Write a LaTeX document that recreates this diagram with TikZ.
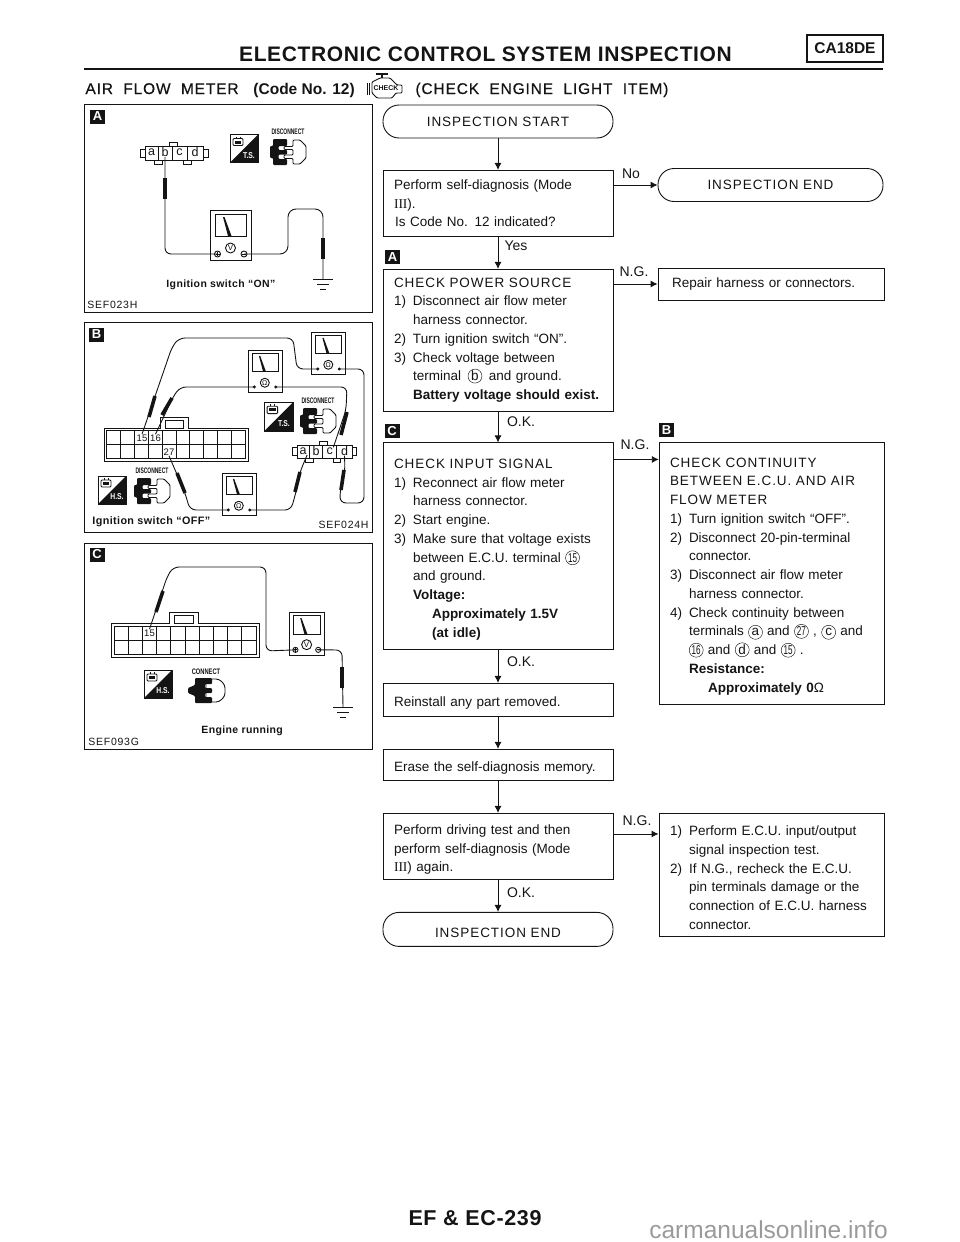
\documentclass[tikz,border=0pt]{standalone}
\usepackage{fontspec}
\usepackage{xcolor}
\usepackage{tikz}
\usetikzlibrary{arrows.meta,positioning,calc}
\setmainfont{Liberation Sans}
\newfontfamily\capfont[LetterSpace=7,WordSpace=2]{Liberation Sans}
\newfontfamily\headfont[LetterSpace=3]{Liberation Sans}
\newfontfamily\condfont[LetterSpace=3.5]{Liberation Sans}
\newfontfamily\medfont[LetterSpace=5.5,WordSpace=2,FakeBold=0.5]{Liberation Sans}
\newfontfamily\serfont{Liberation Serif}
\definecolor{ink}{HTML}{141414}
\definecolor{wmgray}{HTML}{9A9A9A}
% circled terminal mark, and the hanging number of a list line
\newcommand{\crc}[1]{\tikz[baseline=(ring.base)]\node[draw=ink, circle, fill=none, line width=.45pt,
  inner xsep=0pt, inner ysep=0pt, text width=, align=center, minimum width=14pt, minimum height=14pt] (ring) {#1};}
\newcommand{\crn}[1]{\crc{\scalebox{.6}[.95]{#1}}}
\newcommand{\num}[1]{\makebox[19pt][l]{#1}}
\newcommand{\ind}{\hspace*{19pt}}
\newcommand{\dn}{\rule{0pt}{16pt}}
\newcommand{\meterbody}{%
  \draw (0,0) rectangle (41,50);
  \draw (5,4) rectangle (36,26);
  \fill (13,7) -- (14.5,7) -- (21.5,26) -- (18,26) -- cycle;
}
\tikzset{
  pics/voltmeter/.style={code={
    \meterbody
    \coordinate (plus) at (7.5,44);
    \coordinate (minus) at (34,44);
    \draw (plus) circle (3);
    \draw (5.5,44) -- (9.5,44) (7.5,42) -- (7.5,46);
    \draw (minus) circle (3);
    \draw (32,44) -- (36,44);
    \node[draw, circle, inner sep=0pt, minimum size=10pt, font=\fontsize{8}{8}\selectfont] (dial) at (20.5,38) {V};
  }},
  pics/ohmmeter/.style={code={
    \meterbody
    \coordinate (plus) at (7.5,44);
    \coordinate (minus) at (33,44);
    \fill (plus) circle (2);
    \fill (minus) circle (2);
    \node[draw, circle, inner sep=0pt, minimum size=9pt, font=\fontsize{7}{7}\selectfont] (dial) at (20,39) {Ω};
  }},
  pics/modebadge/.style={code={
    \draw (0,0) rectangle (28,28);
    \fill (28,0) -- (28,28) -- (0,28) -- cycle;
    \draw[rounded corners=1pt] (3,4) rectangle (13,11);
    \fill (5,6) rectangle (11,9);
    \draw (6,4) -- (6,2) (10,4) -- (10,2);
    \node[text=white, inner sep=0pt, font=\bfseries\fontsize{8.5}{8.5}\selectfont] (mode) at (19,21) {\scalebox{.8}[1]{#1}};
  }},
  pics/plugopen/.style={code={
    \fill[rounded corners=1pt] (3,0) -- (17,0) -- (17,7) -- (8.5,7) -- (8.5,11) -- (17,11) -- (17,15.5)
      -- (8.5,15.5) -- (8.5,20) -- (17,20) -- (17,26) -- (3,26) -- (3,19) -- (0,19) -- (0,7) -- (3,7) -- cycle;
    \draw[fill=white, rounded corners=1pt] (14,7.500) -- (23,7.500) -- (23,1) -- (30,1) -- (36,7) -- (36,19) -- (30,25)
      -- (23,25) -- (23,19.500) -- (14,19.500) -- (14,16) -- (23,16) -- (23,10.500) -- (14,10.500) -- cycle;
    \node[inner sep=0pt, font=\bfseries\fontsize{8}{8}\selectfont] (cap) at (18,-7) {\scalebox{.62}[1]{DISCONNECT}};
  }},
  pics/plugshut/.style={code={
    \draw[rounded corners=3pt] (18,1) -- (31,1) -- (37,7) -- (37,18) -- (31,24) -- (18,24) -- cycle;
    \fill[rounded corners=1pt] (7,0) -- (24,0) -- (24,6) -- (17,6) -- (17,10) -- (24,10) -- (24,15)
      -- (17,15) -- (17,19) -- (24,19) -- (24,25) -- (7,25) -- (7,18) -- (0,15) -- (0,10) -- (7,7) -- cycle;
    \node[inner sep=0pt, font=\bfseries\fontsize{8}{8}\selectfont] (cap) at (18,-6) {\scalebox{.72}[1]{CONNECT}};
  }},
  pics/abcdconn/.style={code={
    \draw (0,0) rectangle (58,14);
    \draw (13,0) -- (13,14) (27,0) -- (27,14) (42,0) -- (42,14);
    \draw (-5,3) rectangle (0,11) (58,3) rectangle (63,11);
    \draw (24,-4) rectangle (32,0);
    \draw (9,14) rectangle (17,18) (38,14) rectangle (46,18);
    \node[inner sep=0pt, font=\fontsize{12.5}{12.5}\selectfont] (a) at (6.5,6.5) {a};
    \node[inner sep=0pt, font=\fontsize{12.5}{12.5}\selectfont] (b) at (20,6) {b};
    \node[inner sep=0pt, font=\fontsize{12.5}{12.5}\selectfont] (c) at (34.5,6.5) {c};
    \node[inner sep=0pt, font=\fontsize{12.5}{12.5}\selectfont] (d) at (50,6) {d};
  }},
  pics/ecuconn/.style={code={
    \draw (0,0) -- (58,0) -- (58,-11) -- (87,-11) -- (87,0) -- (148,0) -- (148,34) -- (0,34) -- cycle;
    \draw (63,-8) rectangle (82,0);
    \draw (3,3) rectangle (145,31);
    \draw (3,17) -- (145,17);
    \foreach \i in {1,...,9} \draw ({3+14.2*\i},3) -- ({3+14.2*\i},31);
  }},
  pics/earth/.style={code={
    \coordinate (top) at (0,0);
    \draw (-10,0) -- (10,0) (-6,5) -- (6,5) (-3,10) -- (3,10);
  }}
}

\begin{document}
\begin{tikzpicture}[
  x=1pt, y=-1pt, ink, line width=0.9pt,
  flowbox/.style={draw=ink, align=left, inner xsep=11pt, inner ysep=0pt, text=ink, fill=white,
                  text width=208pt, minimum width=230pt,
                  font=\fontsize{13.5}{18.75}\selectfont},
  pill/.style={flowbox, rounded corners=16pt, align=center, minimum height=33pt},
  arr/.style={-{Latex[length=7pt,width=7pt]}, ink},
  lab/.style={inner sep=0pt, text=ink, font=\fontsize{14}{14}\selectfont},
  badge/.style={fill=ink, text=white, inner sep=0pt, minimum width=15pt, minimum height=14pt,
                font=\bfseries\fontsize{13}{13}\selectfont},
  panel/.style={draw=ink, minimum width=288pt, anchor=north west},
  ident/.style={inner sep=0pt, text=ink, font=\capfont\fontsize{10.5}{10.5}\selectfont},
  cond/.style={inner sep=0pt, text=ink, font=\condfont\bfseries\fontsize{10.5}{10.5}\selectfont},
  thead/.style={inner sep=0pt, text=ink, font=\fontsize{9.5}{9.5}\selectfont},
  wire/.style={rounded corners=6pt},
  probe/.style={line width=3.6pt}
]
\useasboundingbox (0,0) rectangle (960,1242);

% heading
\node[inner sep=0pt, font=\headfont\bfseries\fontsize{21}{21}\selectfont] (title) at (485.500,54)
  {ELECTRONIC CONTROL SYSTEM INSPECTION};
\node[draw=ink, line width=1.1pt, minimum width=76pt, minimum height=27pt, inner sep=0pt,
  font=\bfseries\fontsize{15.5}{15.5}\selectfont] (engine) at (845,48.5) {CA18DE};
\draw[line width=1.2pt] (84,69) -- (883,69);
\node[inner sep=0pt, anchor=base west, font=\medfont\fontsize{15.5}{15.5}\selectfont] (sect) at (85,94)
  {AIR FLOW METER};
\node[inner sep=0pt, anchor=base west, font=\bfseries\fontsize{15.5}{15.5}\selectfont] (code) at (253,94)
  {(Code No. 12)};
\node[inner sep=0pt, anchor=base west, font=\medfont\fontsize{15.5}{15.5}\selectfont] (item) at (415,94)
  {(CHECK ENGINE LIGHT ITEM)};
% check engine lamp
\draw (367,83) -- (367,95) (369,83) -- (369,95);
\draw[rounded corners=1pt] (372,82) -- (380,78) -- (390,78) -- (397,85) -- (402,85) -- (402,93)
  -- (396,93) -- (392,98) -- (377,98) -- (372,93) -- cycle;
\draw[line width=1.4pt] (376,74) -- (388,74) (382,74) -- (382,78);
\node[fill=white, inner sep=0pt, font=\bfseries\fontsize{7}{7}\selectfont] (lamp) at (386,88) {CHECK};

% panel A
\node[panel, minimum height=208pt] (pna) at (84,104) {};
\node[badge] (pnaa) at (97.5,116.5) {A};
\pic (abca-) at (145,146) {abcdconn};
\pic (tsa-) at (230,134.500) {modebadge=T.S.};
\pic (dsa-) at (270,139) {plugopen};
\pic[scale=1] (vma-) at (210,210) {voltmeter};
\pic (gda-) at (323,279) {earth};
\draw[wire] (abca-b.south) -- (165,254) -- (vma-plus);
\draw[probe] (165,178) -- (165,199);
\draw[wire, rounded corners=8pt] (vma-minus) -- (288,254) -- (288,209) -- (323,209) -- (gda-top);
\draw[probe] (323,238) -- (323,259);
\node[cond, anchor=west] (cda) at (166,285) {Ignition switch “ON”};
\node[ident, anchor=west] (ida) at (87,305) {SEF023H};

% panel B
\node[panel, minimum height=210pt] (pnb) at (84,322) {};
\node[badge] (pnbb) at (96.5,334.500) {B};
\pic[scale=.973] (ecub-) at (104,428) {ecuconn};
\node[thead] (tb15) at (142,438) {15};
\node[thead] (tb16) at (155.500,438) {16};
\node[thead] (tb27) at (169,452) {27};
\pic[scale=.95] (abcb-) at (297,445) {abcdconn};
\pic[scale=1.05] (tsb-) at (264,402) {modebadge=T.S.};
\pic (dsb-) at (300,408) {plugopen};
\pic (hsb-) at (98,476) {modebadge=H.S.};
\pic (dsc-) at (134,478) {plugopen};
\pic[scale=.84] (oma-) at (311.500,332) {ohmmeter};
\pic[scale=.84] (omb-) at (248,350) {ohmmeter};
\pic[scale=.84] (omc-) at (222,473) {ohmmeter};
\draw[wire] (tb15.north) -- (172,347) -- (179,338) -- (293,338) -- (297,369) -- (oma-plus);
\draw[wire] (oma-minus) -- (364,369) -- (364,503) -- (340,503) -- (340,492) -- (345,470) -- (abcb-d.south);
\draw[wire] (tb16.north) -- (173,397) -- (180,387) -- (omb-plus);
\draw[wire] (omb-minus) -- (347,387) -- (346,410) -- (abcb-c.north east);
\draw[wire] (tb27.south) -- (185,493) -- (190,510) -- (omc-plus);
\draw[wire] (omc-minus) -- (291,510) -- (296,492) -- (300,472) -- (abcb-a.south east);
\draw[probe] (149,417) -- (155,396);
\draw[probe] (162,415) -- (172,398);
\draw[probe] (177,473) -- (185,493);
\draw[probe] (295,492) -- (300,472);
\draw[probe] (347,412) -- (341,435);
\draw[probe] (341,490) -- (344,470);
\node[cond, font=\condfont\bfseries\fontsize{10.8}{10.8}\selectfont, anchor=west] (cdb) at (92,522) {Ignition switch “OFF”};
\node[ident, anchor=east] (idb) at (369,525) {SEF024H};

% panel C
\node[panel, minimum height=206pt] (pnc) at (84,543) {};
\node[badge] (pncc) at (97,554.500) {C};
\pic (ecuc-) at (111,623) {ecuconn};
\node[thead] (tc15) at (149.500,633) {15};
\pic (hsc-) at (144,670) {modebadge=H.S.};
\pic (dsd-) at (188,678) {plugshut};
\pic[scale=.86] (vmc-) at (289,612) {voltmeter};
\pic (gdc-) at (343,707) {earth};
\draw[wire] (tc15.north) -- (167,577) -- (173,567) -- (266,567) -- (266,651) -- (vmc-plus);
\draw[wire] (vmc-minus) -- (342,650) -- (gdc-top);
\draw[probe] (156,612) -- (163,591);
\draw[probe] (342,667) -- (342,688);
\node[cond, anchor=west] (cdc) at (201,731) {Engine running};
\node[ident, anchor=west] (idc) at (88,742) {SEF093G};

% flow column
\node[pill] (start) at (498,121.500) {\capfont INSPECTION START};
\node[flowbox, below=31.5pt of start, minimum height=66pt] (diag) {Perform self-diagnosis (Mode\\
  {\serfont III}).\\
  \hspace*{1pt}Is Code No. 12 indicated?};
\node[flowbox, below=32.1pt of diag, minimum height=142pt] (power) {{\capfont CHECK POWER SOURCE}\\
  \num{1)}Disconnect air flow meter\\
  \ind harness connector.\\
  \num{2)}Turn ignition switch “ON”.\\
  \num{3)}Check voltage between\\
  \ind terminal \,\crc{b}\, and ground.\\
  \ind\textbf{Battery voltage should exist.}};
\node[flowbox, below=31.1pt of power, minimum height=207pt] (input) {\dn{\capfont CHECK INPUT SIGNAL}\\
  \num{1)}Reconnect air flow meter\\
  \ind harness connector.\\
  \num{2)}Start engine.\\
  \num{3)}Make sure that voltage exists\\
  \ind between E.C.U. terminal \crn{15}\\
  \ind and ground.\\
  \ind\textbf{Voltage:}\\
  \ind\ind\textbf{Approximately 1.5V}\\
  \ind\ind\textbf{(at idle)}};
\node[flowbox, below=33.1pt of input, minimum height=33pt] (refit) {\dn Reinstall any part removed.};
\node[flowbox, below=32.1pt of refit, minimum height=31pt] (erase) {\dn Erase the self-diagnosis memory.};
\node[flowbox, below=32.1pt of erase, minimum height=66pt] (drive) {\dn Perform driving test and then\\
  perform self-diagnosis (Mode\\
  {\serfont III}) again.};
\node[pill, below=32.1pt of drive, minimum height=34pt] (stop) {\dn\capfont INSPECTION END};

% side column
\node[pill, minimum width=225pt, text width=203pt] (over) at (770.500,185) {\capfont INSPECTION END};
\node[flowbox, minimum width=226pt, text width=204pt, minimum height=32pt] (fix) at (771,284)
  {\hspace*{3pt}Repair harness or connectors.};
\node[flowbox, minimum width=225pt, text width=203pt, minimum height=262pt] (cont) at (771.500,573)
  {\dn{\capfont CHECK CONTINUITY}\\
  {\capfont BETWEEN E.C.U. AND AIR}\\
  {\capfont FLOW METER}\\
  \num{1)}Turn ignition switch “OFF”.\\
  \num{2)}Disconnect 20-pin-terminal\\
  \ind connector.\\
  \num{3)}Disconnect air flow meter\\
  \ind harness connector.\\
  \num{4)}Check continuity between\\
  \ind terminals \crc{a} and \crn{27} , \crc{c} and\\
  \ind\crn{16} and \crc{d} and \crn{15} .\\
  \ind\textbf{Resistance:}\\
  \ind\ind\textbf{Approximately 0}Ω};
\node[flowbox, minimum width=225pt, text width=203pt, minimum height=123pt] (ecu) at (771.500,874.500)
  {\dn\num{1)}Perform E.C.U. input/output\\
  \ind signal inspection test.\\
  \num{2)}If N.G., recheck the E.C.U.\\
  \ind pin terminals damage or the\\
  \ind connection of E.C.U. harness\\
  \ind connector.};

% step marks
\node[badge] (stepa) at (392.500,257) {A};
\node[badge] (stepc) at (392,431) {C};
\node[badge] (stepb) at (666.500,430) {B};

% links
\draw[arr] (start) -- (diag);
\draw[arr] (diag) -- (power);
\draw[arr] (power) -- (input);
\draw[arr] (input) -- (refit);
\draw[arr] (refit) -- (erase);
\draw[arr] (erase) -- (drive);
\draw[arr] (drive) -- (stop);
\draw[arr] (diag.east |- over.west) -- (over.west);
\draw[arr] (power.east |- fix.west) -- (fix.west);
\draw[arr] ([yshift=-17pt]input.north east) -- ([yshift=-17pt]input.north east -| cont.west);
\draw[arr] ([yshift=-21pt]drive.north east) -- ([yshift=-21pt]drive.north east -| ecu.west);
\node[lab] (lbno) at (631,174) {No};
\node[lab] (lbyes) at (516,246) {Yes};
\node[lab] (lbnga) at (634,272) {N.G.};
\node[lab] (lboka) at (521,422) {O.K.};
\node[lab] (lbngb) at (635,445) {N.G.};
\node[lab] (lbokb) at (521,662) {O.K.};
\node[lab] (lbngc) at (637,821) {N.G.};
\node[lab] (lbokc) at (521,893) {O.K.};

% foot
\node[inner sep=0pt, font=\headfont\bfseries\fontsize{21.5}{21.5}\selectfont] (foot) at (475,1218) {EF \& EC-239};
\node[inner sep=0pt, text=wmgray, font=\fontsize{24.5}{24.5}\selectfont] (site) at (768.500,1230) {carmanualsonline.info};
\end{tikzpicture}
\end{document}
